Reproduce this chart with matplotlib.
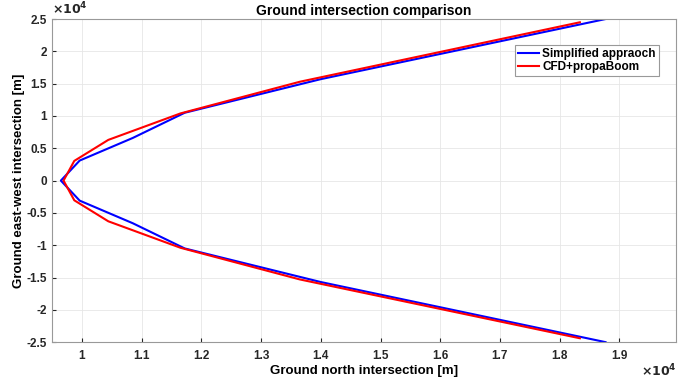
import matplotlib
matplotlib.use("Agg")
import matplotlib.pyplot as plt
import numpy as np
from matplotlib.ticker import FuncFormatter

plt.rcParams['font.family'] = ['Liberation Sans', 'DejaVu Sans']
plt.rcParams['font.weight'] = 'bold'

# ground intersection points (north, east-west) in metres
north_simple = [18770, 14000, 11720, 10850, 9960, 9645, 9960, 10850, 11720, 14000, 18770]
east_simple = [25000, 15700, 10500, 6600, 3100, 0, -3100, -6600, -10500, -15700, -25000]

north_cfd = [18340, 13650, 11650, 10440, 9870, 9690, 9870, 10440, 11650, 13650, 18340]
east_cfd = [24500, 15300, 10400, 6300, 3050, 0, -3050, -6300, -10400, -15300, -24400]

fig = plt.figure(figsize=(6.78, 3.81), dpi=100)
ax = fig.add_axes([0.077, 0.102, 0.92, 0.848])

ax.plot(north_simple, east_simple, color=(0, 0, 1), lw=1.5, label="Simplified appraoch")
ax.plot(north_cfd, east_cfd, color=(1, 0, 0), lw=1.5, label="CFD+propaBoom")

ax.set_xlim(9500, 19950)
ax.set_ylim(-25000, 25000)
ax.set_xticks(np.arange(10000, 19001, 1000))
ax.set_yticks(np.arange(-25000, 25001, 5000))

fmt = FuncFormatter(lambda v, p: "%g" % round(v / 1e4, 2))
ax.xaxis.set_major_formatter(fmt)
ax.yaxis.set_major_formatter(fmt)

# MATLAB-style exponent labels
ax.text(0.0, 1.005, r"$\times10^{4}$", transform=ax.transAxes, fontsize=9,
        ha='left', va='bottom', color=(0.15, 0.15, 0.15))
fig.text(0.998, 0.005, r"$\times10^{4}$", fontsize=9,
         ha='right', va='bottom', color=(0.15, 0.15, 0.15))

ax.grid(True, color=(0.9, 0.9, 0.9), lw=0.6)
ax.set_axisbelow(True)
ax.tick_params(direction='in', length=3, labelsize=8.5, colors=(0.15, 0.15, 0.15))
ax.tick_params(axis='y', pad=4)
ax.tick_params(axis='x', pad=6)
for s in ax.spines.values():
    s.set_color((0.6, 0.6, 0.6))
    s.set_linewidth(0.8)

ax.set_title("Ground intersection comparison", fontsize=10, fontweight='bold', pad=3)
ax.set_xlabel("Ground north intersection [m]", fontsize=9.5, fontweight='bold', labelpad=2)
ax.set_ylabel("Ground east-west intersection [m]", fontsize=9.5, fontweight='bold')
ax.yaxis.set_label_coords(-0.043, 0.5)

leg = ax.legend(loc='upper right', bbox_to_anchor=(0.972, 0.92), fontsize=8.5,
                fancybox=False, framealpha=1, borderpad=0.25, handlelength=1.7,
                handletextpad=0.3, labelspacing=0.1, borderaxespad=0)
leg.get_frame().set_edgecolor((0.6, 0.6, 0.6))
leg.get_frame().set_linewidth(0.8)

fig.savefig("out.png", dpi=100)
